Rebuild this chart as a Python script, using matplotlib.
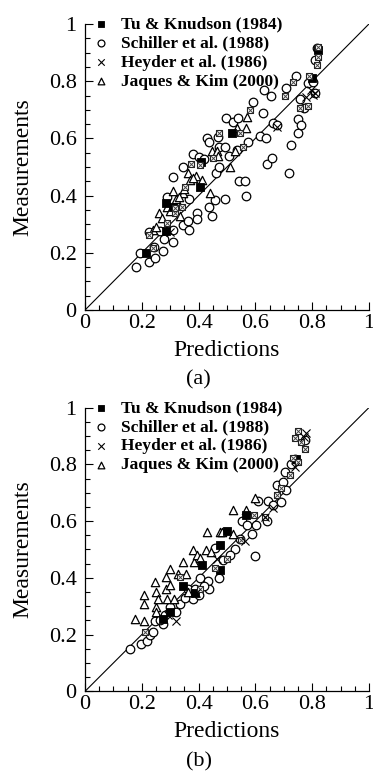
import numpy as np
import matplotlib.pyplot as plt
from matplotlib.ticker import MultipleLocator

plt.rcParams['font.family'] = ['Liberation Serif', 'DejaVu Serif']

# ---- panel (a): predictions vs measurements ----
tu_a_x = [0.215, 0.284, 0.284, 0.311, 0.407, 0.405, 0.516, 0.80, 0.82]
tu_a_y = [0.200, 0.373, 0.277, 0.359, 0.519, 0.431, 0.620, 0.81, 0.91]

sch_a_x = [0.180, 0.194, 0.225, 0.246, 0.227, 0.243, 0.273, 0.279, 0.311, 0.309,
           0.264, 0.290, 0.311, 0.344, 0.346, 0.364, 0.367, 0.367, 0.381, 0.393,
           0.393, 0.403, 0.419, 0.428, 0.437, 0.437, 0.448, 0.458, 0.469, 0.473,
           0.461, 0.473, 0.493, 0.496, 0.493, 0.508, 0.522, 0.540, 0.534, 0.543,
           0.563, 0.567, 0.575, 0.590, 0.626, 0.615, 0.631, 0.636, 0.640, 0.654,
           0.657, 0.663, 0.675, 0.708, 0.743, 0.720, 0.725, 0.749, 0.751, 0.761,
           0.757, 0.771, 0.784, 0.804, 0.810, 0.816, 0.810]
sch_a_y = [0.152, 0.200, 0.169, 0.181, 0.272, 0.221, 0.207, 0.249, 0.237, 0.280,
           0.277, 0.396, 0.466, 0.501, 0.297, 0.312, 0.280, 0.387, 0.545, 0.338,
           0.318, 0.536, 0.529, 0.600, 0.586, 0.361, 0.329, 0.385, 0.606, 0.570,
           0.478, 0.501, 0.387, 0.670, 0.571, 0.538, 0.658, 0.670, 0.559, 0.452,
           0.452, 0.399, 0.589, 0.728, 0.688, 0.608, 0.769, 0.600, 0.509, 0.748,
           0.530, 0.655, 0.647, 0.778, 0.818, 0.478, 0.577, 0.620, 0.667, 0.647,
           0.737, 0.705, 0.795, 0.798, 0.758, 0.915, 0.874]

hey_a_x = [0.675, 0.804, 0.780, 0.810, 0.300, 0.795]
hey_a_y = [0.641, 0.752, 0.746, 0.760, 0.272, 0.770]
# Heyder points that sit on top of square outlines
heybox_a_x = [0.227, 0.241, 0.288, 0.317, 0.317, 0.352, 0.372, 0.405, 0.452, 0.473,
              0.546, 0.581, 0.558, 0.704, 0.734, 0.757, 0.790, 0.816, 0.822, 0.822,
              0.786, 0.343]
heybox_a_y = [0.262, 0.216, 0.303, 0.338, 0.355, 0.431, 0.510, 0.507, 0.530, 0.620,
              0.620, 0.700, 0.571, 0.748, 0.798, 0.705, 0.818, 0.857, 0.886, 0.918,
              0.713, 0.360]

jaq_a_x = [0.241, 0.262, 0.271, 0.288, 0.309, 0.320, 0.335, 0.344, 0.349, 0.364,
           0.370, 0.391, 0.411, 0.440, 0.446, 0.464, 0.511, 0.528, 0.536, 0.567,
           0.569, 0.250, 0.300, 0.330, 0.380, 0.470]
jaq_a_y = [0.280, 0.338, 0.320, 0.361, 0.417, 0.387, 0.329, 0.408, 0.422, 0.478,
           0.455, 0.469, 0.455, 0.410, 0.557, 0.557, 0.501, 0.557, 0.635, 0.635,
           0.676, 0.290, 0.345, 0.395, 0.460, 0.540]

# ---- panel (b) ----
tu_b_x = [0.276, 0.300, 0.344, 0.411, 0.475, 0.475, 0.499, 0.567, 0.387, 0.743]
tu_b_y = [0.256, 0.280, 0.372, 0.445, 0.515, 0.427, 0.566, 0.621, 0.348, 0.820]

sch_b_x = [0.158, 0.197, 0.217, 0.229, 0.238, 0.246, 0.276, 0.282, 0.300, 0.320,
           0.335, 0.364, 0.379, 0.387, 0.403, 0.405, 0.434, 0.438, 0.458, 0.473,
           0.487, 0.528, 0.546, 0.552, 0.571, 0.587, 0.599, 0.604, 0.610, 0.640,
           0.646, 0.663, 0.675, 0.690, 0.696, 0.704, 0.708, 0.725, 0.775, 0.739,
           0.263, 0.352, 0.418, 0.510]
sch_b_y = [0.148, 0.168, 0.176, 0.200, 0.209, 0.247, 0.236, 0.268, 0.298, 0.280,
           0.309, 0.362, 0.327, 0.362, 0.339, 0.400, 0.388, 0.362, 0.504, 0.400,
           0.462, 0.501, 0.536, 0.600, 0.586, 0.556, 0.478, 0.588, 0.671, 0.600,
           0.671, 0.656, 0.729, 0.668, 0.739, 0.772, 0.709, 0.800, 0.886, 0.819,
           0.250, 0.330, 0.370, 0.480]

hey_b_x = [0.320, 0.291, 0.391, 0.563, 0.663, 0.634, 0.771, 0.739, 0.464, 0.780]
hey_b_y = [0.249, 0.268, 0.345, 0.529, 0.645, 0.615, 0.898, 0.792, 0.468, 0.910]
heybox_b_x = [0.458, 0.499, 0.551, 0.595, 0.634, 0.675, 0.692, 0.722, 0.734, 0.749,
              0.749, 0.739, 0.762, 0.775, 0.211, 0.334, 0.405]
heybox_b_y = [0.435, 0.468, 0.532, 0.621, 0.615, 0.692, 0.718, 0.762, 0.824, 0.808,
              0.918, 0.892, 0.880, 0.854, 0.209, 0.403, 0.362]

jaq_b_x = [0.176, 0.208, 0.208, 0.209, 0.246, 0.249, 0.249, 0.249, 0.258, 0.284,
           0.285, 0.288, 0.300, 0.300, 0.315, 0.329, 0.344, 0.356, 0.364, 0.381,
           0.384, 0.394, 0.405, 0.426, 0.431, 0.442, 0.475, 0.484, 0.520, 0.567,
           0.599, 0.523]
jaq_b_y = [0.256, 0.339, 0.309, 0.247, 0.386, 0.351, 0.298, 0.280, 0.327, 0.404,
           0.362, 0.327, 0.431, 0.374, 0.327, 0.412, 0.456, 0.415, 0.351, 0.498,
           0.456, 0.480, 0.471, 0.498, 0.562, 0.492, 0.562, 0.562, 0.639, 0.639,
           0.680, 0.556]

labels = ['Tu & Knudson (1984)', 'Schiller et al. (1988)',
          'Heyder et al. (1986)', 'Jaques & Kim (2000)']


def panel(ax, tu, sch, hey, heybox, jaq, tag, tag_y):
    ax.plot([0, 1], [0, 1], color='black', lw=0.8, zorder=1)
    h1 = ax.scatter(*tu, marker='s', s=28, c='black', linewidths=0.6, zorder=3)
    h2 = ax.scatter(*sch, marker='o', s=38, facecolors='white',
                    edgecolors='black', linewidths=0.9, zorder=2)
    ax.scatter(*heybox, marker='s', s=24, facecolors='white',
               edgecolors='#222222', linewidths=0.8, zorder=3)
    ax.scatter(*heybox, marker='x', s=14, c='#444444', linewidths=0.7, zorder=4)
    h3 = ax.scatter(*hey, marker='x', s=34, c='black', linewidths=0.8, zorder=4)
    h4 = ax.scatter(*jaq, marker='^', s=36, facecolors='white',
                    edgecolors='black', linewidths=0.9, zorder=2)
    ax.set_xlim(0, 1)
    ax.set_ylim(0, 1)
    for side in ('top', 'right'):
        ax.spines[side].set_visible(False)
    for side in ('left', 'bottom'):
        ax.spines[side].set_linewidth(0.9)
    ax.xaxis.set_minor_locator(MultipleLocator(0.05))
    ax.yaxis.set_minor_locator(MultipleLocator(0.05))
    ticks = [0, 0.2, 0.4, 0.6, 0.8, 1]
    ticklabels = ['0', '0.2', '0.4', '0.6', '0.8', '1']
    ax.set_xticks(ticks)
    ax.set_xticklabels(ticklabels)
    ax.set_yticks(ticks)
    ax.set_yticklabels(ticklabels)
    ax.tick_params(which='both', direction='in', labelsize=16, width=0.8)
    ax.tick_params(which='major', length=6)
    ax.tick_params(which='minor', length=3.5)
    ax.tick_params(axis='x', pad=3)
    ax.tick_params(axis='y', pad=6)
    ax.set_xlabel('Predictions', fontsize=17, labelpad=5)
    ax.set_ylabel('Measurements', fontsize=17, labelpad=11)
    ax.text(0.4, tag_y, tag, transform=ax.transAxes, ha='center', va='center',
            fontsize=16)
    ax.legend([h1, h2, h3, h4], labels, loc='upper left',
              bbox_to_anchor=(-0.025, 1.07), frameon=False,
              prop={'weight': 'bold', 'size': 12.5}, handletextpad=0.6,
              labelspacing=0.17, borderpad=0.2, handlelength=1.2,
              markerscale=0.8, scatterpoints=1)


fig = plt.figure(figsize=(3.73, 7.75), dpi=100)
ax1 = fig.add_axes([0.228, 0.600, 0.761, 0.369])
ax2 = fig.add_axes([0.228, 0.108, 0.761, 0.366])

panel(ax1, (tu_a_x, tu_a_y), (sch_a_x, sch_a_y), (hey_a_x, hey_a_y),
      (heybox_a_x, heybox_a_y), (jaq_a_x, jaq_a_y), '(a)', -0.245)
panel(ax2, (tu_b_x, tu_b_y), (sch_b_x, sch_b_y), (hey_b_x, hey_b_y),
      (heybox_b_x, heybox_b_y), (jaq_b_x, jaq_b_y), '(b)', -0.25)

fig.savefig('out.png', dpi=100)
